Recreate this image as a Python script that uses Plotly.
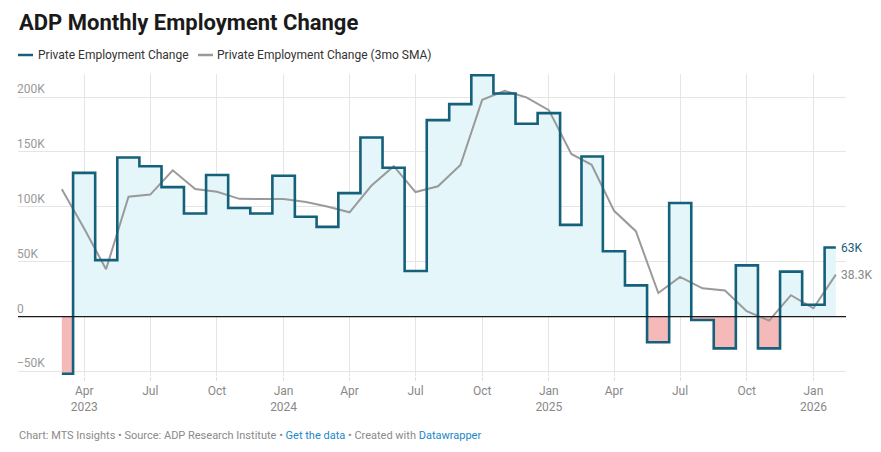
import pandas as pd
import plotly.graph_objects as go

# ---- data (thousands of jobs) ----
months = pd.date_range("2023-03-01", periods=36, freq="MS")
change = [-52, 131, 51.5, 145, 137, 118, 94, 129, 99, 94,
          128.3, 91, 81.8, 112.5, 163.2, 135.6, 41.6, 179, 193.6, 220, 203.3, 175.7,
          185.4, 83.6, 145.9, 59.6, 28.5, -23.3, 103.6, -3, -28.8, 46.7, -28.8, 41,
          10.9, 63]
sma3 = [116, 80, 43.2, 109.2, 111.2, 133.3, 116.3, 113.7, 107.3, 107.3,
        107.1, 104.4, 100.4, 95.1, 119.2, 137.1, 113.5, 118.7, 138.1, 197.5, 205.6, 199.7,
        188.1, 148.2, 138.3, 96.4, 77.9, 21.6, 36.3, 25.8, 23.9, 5.0, -3.6, 19.6,
        7.7, 38.3]
end_labels = ["63K", "38.3K"]
ytick_vals = [-50, 0, 50, 100, 150, 200]
ytick_text = ["\u221250K", "0", "50K", "100K", "150K", "200K"]
xtick_vals = ["2023-04-01", "2023-07-01", "2023-10-01", "2024-01-01", "2024-04-01",
              "2024-07-01", "2024-10-01", "2025-01-01", "2025-04-01", "2025-07-01",
              "2025-10-01", "2026-01-01"]
xtick_text = ["Apr<br>2023", "Jul", "Oct", "Jan<br>2024", "Apr", "Jul", "Oct",
              "Jan<br>2025", "Apr", "Jul", "Oct", "Jan<br>2026"]

TEAL = "#15607a"
GREY = "#9a9a9a"
FONT = "Roboto"

pos = [max(v, 0) for v in change]
neg = [min(v, 0) for v in change]

fig = go.Figure()
fig.add_trace(go.Scatter(x=months, y=pos, mode="lines", line=dict(width=0, shape="hvh"),
                         fill="tozeroy", fillcolor="rgb(228,246,249)", hoverinfo="skip"))
fig.add_trace(go.Scatter(x=months, y=neg, mode="lines", line=dict(width=0, shape="hvh"),
                         fill="tozeroy", fillcolor="#f5b9b9", hoverinfo="skip"))
fig.add_trace(go.Scatter(x=months, y=sma3, mode="lines",
                         line=dict(color=GREY, width=2), name="Private Employment Change (3mo SMA)"))
fig.add_trace(go.Scatter(x=months, y=change, mode="lines",
                         line=dict(color=TEAL, width=2.6, shape="hvh"), name="Private Employment Change"))

L, R, T, B = 18, 35, 74, 76
W, H = 881, 452
pw, ph = W - L - R, H - T - B


def px(x):
    return (x - L) / pw


def py(y):
    return (H - B - y) / ph


ann = []
ann.append(dict(text="<b>ADP Monthly Employment Change</b>", x=px(17), y=py(23), xref="paper", yref="paper",
                xanchor="left", yanchor="middle", showarrow=False,
                font=dict(family=FONT, size=22, color="#1a1a1a")))
ann.append(dict(text="Private Employment Change", x=px(36), y=py(55), xref="paper", yref="paper",
                xanchor="left", yanchor="middle", showarrow=False,
                font=dict(family=FONT, size=12, color="#333333")))
ann.append(dict(text="Private Employment Change (3mo SMA)", x=px(215), y=py(55), xref="paper", yref="paper",
                xanchor="left", yanchor="middle", showarrow=False,
                font=dict(family=FONT, size=12, color="#333333")))
ann.append(dict(text="Chart: MTS Insights \u2022 Source: ADP Research Institute \u2022 "
                     "<span style='color:#1a88c9'>Get the data</span> \u2022 Created with "
                     "<span style='color:#1a88c9'>Datawrapper</span>",
                x=px(17), y=py(436), xref="paper", yref="paper", xanchor="left", yanchor="middle",
                showarrow=False, font=dict(family=FONT, size=11, color="#8a8a8a")))
ann.append(dict(text=end_labels[0], x=months[-1], y=change[-1], xref="x", yref="y", xanchor="left",
                yanchor="middle", xshift=3, showarrow=False, font=dict(family=FONT, size=12, color=TEAL)))
ann.append(dict(text=end_labels[1], x=months[-1], y=sma3[-1], xref="x", yref="y", xanchor="left",
                yanchor="middle", xshift=3, showarrow=False, font=dict(family=FONT, size=12, color="#888888")))

shapes = [
    dict(type="line", xref="paper", yref="paper", x0=px(18), x1=px(33), y0=py(55), y1=py(55),
         line=dict(color=TEAL, width=2.5)),
    dict(type="line", xref="paper", yref="paper", x0=px(198), x1=px(213), y0=py(55), y1=py(55),
         line=dict(color=GREY, width=2.5)),
    # zero baseline drawn above the area fills
    dict(type="line", xref="paper", yref="y", x0=0, x1=1, y0=0, y1=0, layer="above",
         line=dict(color="#1a1a1a", width=1.2)),
]

fig.update_layout(
    width=W, height=H, margin=dict(l=L, r=R, t=T, b=B),
    paper_bgcolor="white", plot_bgcolor="white", showlegend=False,
    font=dict(family=FONT, size=12, color="#888888"),
    annotations=ann, shapes=shapes,
    xaxis=dict(type="date", range=["2022-12-30 12:00", "2026-02-15"],
               tickvals=xtick_vals, ticktext=xtick_text, showgrid=True, gridcolor="#e5e5e5",
               gridwidth=1, ticks="outside", ticklen=4, tickcolor="#e0e0e0",
               showline=False, zeroline=False, tickfont=dict(size=12, color="#888888")),
    yaxis=dict(range=[-54, 221], tickvals=ytick_vals, ticktext=ytick_text, showgrid=True,
               gridcolor="#e5e5e5", gridwidth=1, zeroline=False,
               ticks="", ticklabelposition="inside top", ticklabelstandoff=-4,
               tickfont=dict(size=12, color="#999999"), showline=False),
)

fig.write_html("out.html", config={"displayModeBar": False},
               post_script="document.body.style.margin='0px';document.body.style.padding='0px';")
